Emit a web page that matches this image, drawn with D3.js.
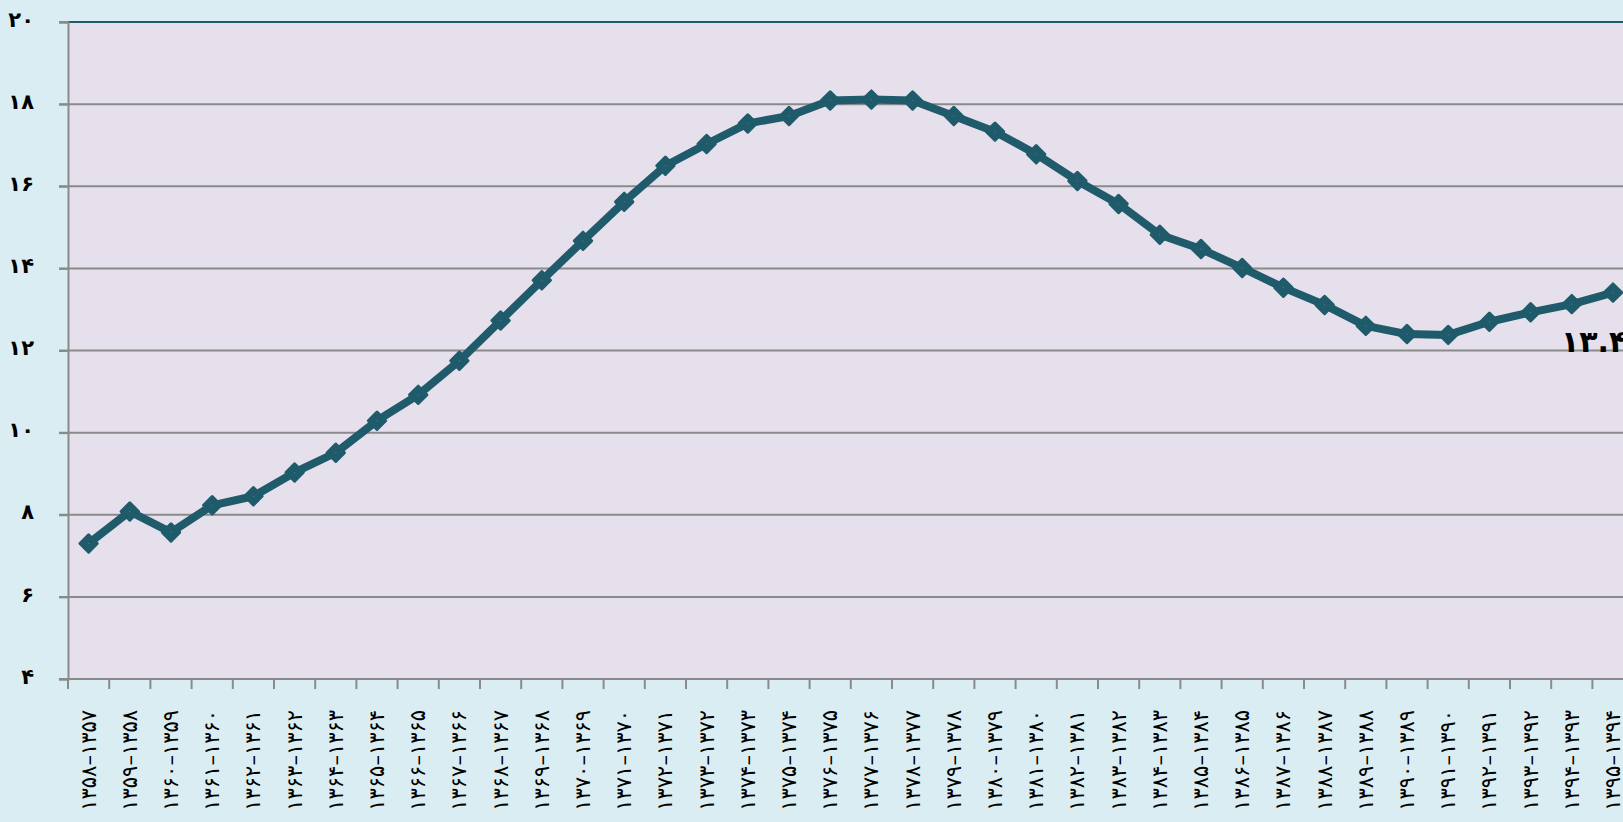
<!DOCTYPE html>
<html>
<head>
<meta charset="utf-8">
<script src="https://cdn.jsdelivr.net/npm/d3@7"></script>
<style>
  html, body { margin: 0; padding: 0; background: #daedf3; overflow: hidden; }
  #chart { width: 1623px; height: 822px; }
</style>
</head>
<body>
<div id="chart"></div>
<script>
//categories (start year, end year) in Persian digits
var startYears = ["۱۳۵۷","۱۳۵۸","۱۳۵۹","۱۳۶۰","۱۳۶۱","۱۳۶۲","۱۳۶۳","۱۳۶۴","۱۳۶۵","۱۳۶۶",
  "۱۳۶۷","۱۳۶۸","۱۳۶۹","۱۳۷۰","۱۳۷۱","۱۳۷۲","۱۳۷۳","۱۳۷۴","۱۳۷۵","۱۳۷۶",
  "۱۳۷۷","۱۳۷۸","۱۳۷۹","۱۳۸۰","۱۳۸۱","۱۳۸۲","۱۳۸۳","۱۳۸۴","۱۳۸۵","۱۳۸۶",
  "۱۳۸۷","۱۳۸۸","۱۳۸۹","۱۳۹۰","۱۳۹۱","۱۳۹۲","۱۳۹۳","۱۳۹۴"];
var endYears = ["۱۳۵۸","۱۳۵۹","۱۳۶۰","۱۳۶۱","۱۳۶۲","۱۳۶۳","۱۳۶۴","۱۳۶۵","۱۳۶۶","۱۳۶۷",
  "۱۳۶۸","۱۳۶۹","۱۳۷۰","۱۳۷۱","۱۳۷۲","۱۳۷۳","۱۳۷۴","۱۳۷۵","۱۳۷۶","۱۳۷۷",
  "۱۳۷۸","۱۳۷۹","۱۳۸۰","۱۳۸۱","۱۳۸۲","۱۳۸۳","۱۳۸۴","۱۳۸۵","۱۳۸۶","۱۳۸۷",
  "۱۳۸۸","۱۳۸۹","۱۳۹۰","۱۳۹۱","۱۳۹۲","۱۳۹۳","۱۳۹۴","۱۳۹۵"];

//series values
var values = [7.30, 8.08, 7.57, 8.23, 8.45, 9.03, 9.51, 10.29, 10.92, 11.75,
  12.73, 13.71, 14.67, 15.62, 16.50, 17.03, 17.53, 17.71, 18.09, 18.11,
  18.09, 17.71, 17.33, 16.78, 16.13, 15.57, 14.82, 14.47, 14.01, 13.53,
  13.11, 12.60, 12.40, 12.38, 12.70, 12.93, 13.13, 13.41];

//y tick values and their labels
var yTicks = [4, 6, 8, 10, 12, 14, 16, 18, 20];
var yTickLabels = ["۴","۶","۸","۱۰","۱۲","۱۴","۱۶","۱۸","۲۰"];

//label shown next to the last point
var lastLabel = "۱۳.۴";

var W = 1623, H = 822;
var margin = {top: 22, left: 68, bottom: 143};
var band = 41.2;

var lineColor = "#1f5b6a";
var gridColor = "#8a8a8a";

var svg = d3.select("#chart").append("svg")
  .attr("width", W)
  .attr("height", H)
  .style("display", "block");

svg.append("rect")
  .attr("width", W).attr("height", H)
  .attr("fill", "#daedf3");

var x = d3.scaleBand()
  .domain(d3.range(values.length))
  .range([margin.left, margin.left + band * values.length])
  .padding(0);

var y = d3.scaleLinear()
  .domain([4, 20])
  .range([H - margin.bottom, margin.top]);

var plotRight = margin.left + band * values.length;

//plot area
svg.append("rect")
  .attr("x", margin.left)
  .attr("y", y(20))
  .attr("width", plotRight - margin.left)
  .attr("height", y(4) - y(20))
  .attr("fill", "#e6e0ec");

//gridlines
svg.append("g")
  .selectAll("line")
  .data(yTicks.filter(function(d) { return d > 4 && d < 20; }))
  .enter()
  .append("line")
  .attr("x1", margin.left - 9)
  .attr("x2", plotRight)
  .attr("y1", function(d) { return y(d); })
  .attr("y2", function(d) { return y(d); })
  .attr("stroke", gridColor)
  .attr("stroke-width", 2);

//top border
svg.append("line")
  .attr("x1", margin.left)
  .attr("x2", plotRight)
  .attr("y1", y(20))
  .attr("y2", y(20))
  .attr("stroke", lineColor)
  .attr("stroke-width", 2);
svg.append("line")
  .attr("x1", margin.left - 9)
  .attr("x2", margin.left)
  .attr("y1", y(20))
  .attr("y2", y(20))
  .attr("stroke", gridColor)
  .attr("stroke-width", 2);

//y axis
var yAxis = d3.axisLeft(y)
  .tickValues(yTicks)
  .tickSize(9)
  .tickFormat(function(d, i) { return yTickLabels[i]; });

var gy = svg.append("g")
  .attr("transform", "translate(" + margin.left + ",0)")
  .call(yAxis);
gy.select(".domain").attr("stroke", gridColor).attr("stroke-width", 2);
gy.selectAll(".tick line").attr("stroke", gridColor).attr("stroke-width", 2);
gy.selectAll(".tick text")
  .attr("x", -34)
  .attr("dy", "0.2em")
  .attr("fill", "#000")
  .attr("font-family", "'DejaVu Sans', sans-serif")
  .attr("font-weight", "bold")
  .attr("font-size", 21);

//x axis: ticks between categories
var gx = svg.append("g");
gx.append("line")
  .attr("x1", margin.left - 9)
  .attr("x2", plotRight)
  .attr("y1", y(4))
  .attr("y2", y(4))
  .attr("stroke", gridColor)
  .attr("stroke-width", 2);
gx.selectAll("line.tick")
  .data(d3.range(values.length + 1))
  .enter()
  .append("line")
  .attr("class", "tick")
  .attr("x1", function(i) { return margin.left + i * x.bandwidth(); })
  .attr("x2", function(i) { return margin.left + i * x.bandwidth(); })
  .attr("y1", y(4))
  .attr("y2", y(4) + 10)
  .attr("stroke", gridColor)
  .attr("stroke-width", 2);

//category labels, rotated, reading bottom to top
gx.selectAll("text")
  .data(d3.range(values.length))
  .enter()
  .append("text")
  .attr("transform", function(i) {
    return "translate(" + (x(i) + x.bandwidth() / 2 + 7) + "," + (y(4) + 31) + ") rotate(-90)";
  })
  .attr("text-anchor", "end")
  .attr("font-family", "'DejaVu Sans', sans-serif")
  .attr("font-size", 21)
  .attr("fill", "#000")
  .text(function(i) { return endYears[i] + "\u2013" + startYears[i]; });

//series line
var cx = function(d, i) { return x(i) + x.bandwidth() / 2; };

svg.append("path")
  .datum(values)
  .attr("fill", "none")
  .attr("stroke", lineColor)
  .attr("stroke-width", 8)
  .attr("stroke-linejoin", "round")
  .attr("d", d3.line().x(cx).y(function(d) { return y(d); }));

//diamond markers
var marks = svg.append("g")
  .selectAll("g")
  .data(values)
  .enter()
  .append("g")
  .attr("transform", function(d, i) { return "translate(" + cx(d, i) + "," + y(d) + ")"; });

marks.append("path")
  .attr("d", d3.symbol(d3.symbolSquare, 150))
  .attr("transform", "rotate(45)")
  .attr("fill", lineColor)
  .attr("stroke", lineColor)
  .attr("stroke-width", 3)
  .attr("stroke-linejoin", "round");

marks.append("rect")
  .attr("x", -0.5).attr("y", -0.5)
  .attr("width", 1).attr("height", 1)
  .attr("fill", "#4b7fb8");

//data label on the last point
var last = values.length - 1;
svg.append("text")
  .attr("x", cx(values[last], last) - 52)
  .attr("y", y(values[last]) + 59)
  .attr("font-family", "'DejaVu Sans', sans-serif")
  .attr("font-weight", "bold")
  .attr("font-size", 30)
  .attr("letter-spacing", 3)
  .attr("fill", "#000")
  .text(lastLabel);
</script>
</body>
</html>
